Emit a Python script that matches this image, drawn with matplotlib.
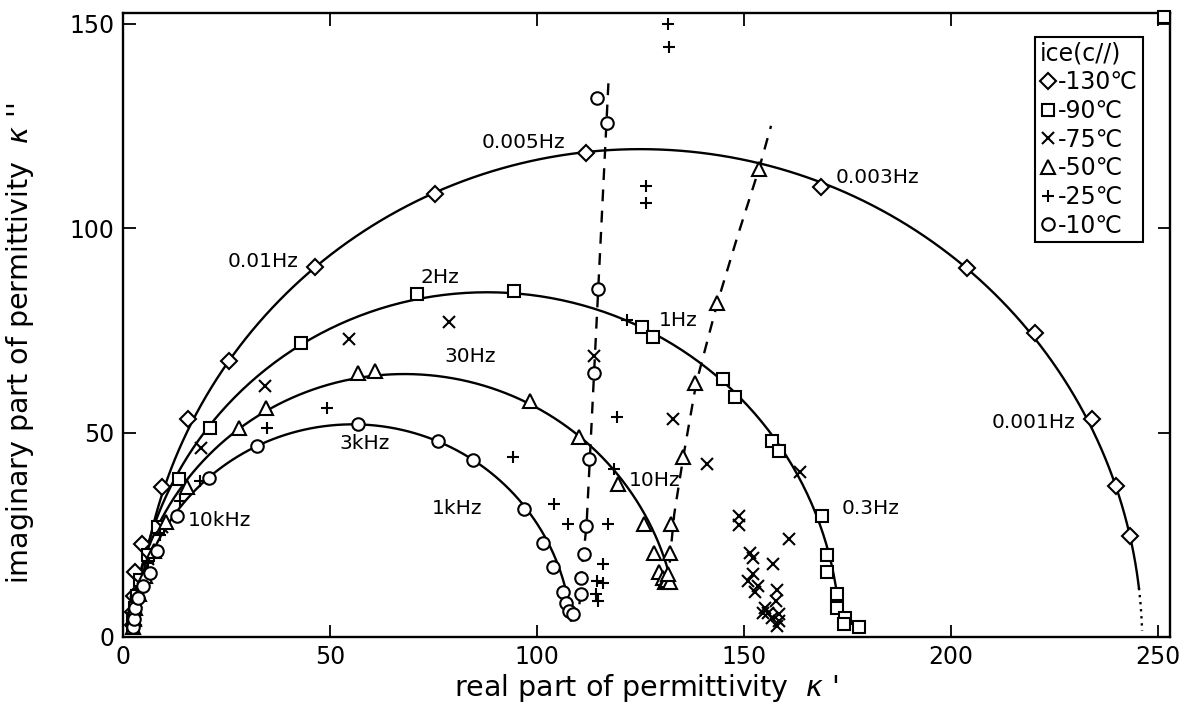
import numpy as np
import matplotlib.pyplot as plt

plt.rcParams['font.family'] = ['DejaVu Sans', 'Noto Sans CJK JP']

# data (real part, imaginary part)
x_m130 = [2.4, 2.5, 2.7, 3.0, 4.5, 9.4, 15.8, 25.5, 46.5, 75.4, 111.8, 168.7, 204.0, 220.5, 234.2, 240.0, 243.4]
y_m130 = [3, 6, 10, 15.8, 22.7, 36.8, 53.2, 67.4, 90.4, 108.3, 118.4, 110.0, 90.2, 74.3, 53.2, 37.0, 24.8]

x_m90 = [2.3, 2.5, 2.8, 3.3, 4.2, 6.0, 8.5, 13.5, 21.0, 42.9, 71.1, 94.5, 125.5, 128.0, 145.0, 147.8,
         156.9, 158.6, 168.9, 170.1, 170.1, 172.5, 172.5, 174.5, 174.2, 177.8, 251.5]
y_m90 = [2.5, 4.5, 7, 10, 14, 20, 27, 38.7, 51.2, 71.8, 83.8, 84.6, 75.7, 73.3, 63.2, 58.6,
         48.0, 45.6, 29.7, 20.1, 15.9, 10.5, 7.1, 4.7, 3.2, 2.5, 151.5]

x_m75 = [2.4, 2.7, 3.2, 4.2, 6.0, 9.5, 18.8, 34.2, 54.5, 78.8, 113.7, 132.8, 141.2, 148.9, 148.9, 163.6,
         161.0, 151.6, 152.3, 157.1, 152.3, 151.1, 153.5, 158.1, 152.8, 157.8, 155.2, 154.7, 158.6,
         156.9, 158.6, 158.0, 155.9]
y_m75 = [2.5, 5, 8.5, 13, 19, 27, 46.3, 61.3, 72.8, 77.0, 68.6, 53.4, 42.4, 29.7, 27.5, 40.4,
         24.0, 20.6, 19.4, 17.9, 15.4, 13.7, 12.5, 11.5, 11.0, 8.8, 7.1, 5.9, 5.6,
         4.7, 3.9, 2.7, 5.9]

x_m50 = [2.3, 2.6, 3.0, 3.8, 5.2, 7.5, 10.5, 15.4, 28.0, 34.5, 56.9, 61.0, 98.3, 110.1, 119.5, 125.8,
         128.2, 129.6, 130.6, 131.0, 131.5, 132.3, 132.5, 132.3, 131.8, 135.4, 138.3, 143.6, 153.7]
y_m50 = [2.5, 4.5, 7, 10.5, 15, 21, 28, 36.8, 51.2, 56.1, 64.5, 65.0, 57.6, 49.0, 37.3, 27.7,
         20.6, 15.9, 14.5, 13.5, 14.0, 13.5, 27.7, 20.6, 15.4, 44.1, 62.0, 81.6, 114.5]

x_m25 = [2.5, 2.8, 3.3, 4.2, 6.0, 9.0, 13.7, 18.6, 34.9, 49.2, 94.2, 104.1, 107.5, 117.1, 116.1, 116.1,
         114.5, 114.2, 114.9, 118.6, 119.3, 121.9, 126.3, 126.3, 131.6, 132.0]
y_m25 = [2.5, 5, 8.5, 12.5, 18, 25, 33.3, 38.2, 51.0, 56.1, 43.9, 32.6, 27.7, 27.7, 17.9, 13.2,
         13.7, 10.5, 8.8, 41.2, 53.7, 77.5, 110.3, 106.1, 149.8, 144.4]

x_m10 = [2.4, 2.6, 3.0, 3.6, 4.8, 6.5, 8.2, 13.0, 20.7, 32.3, 56.9, 76.1, 84.6, 96.9, 101.4, 104.0,
         106.3, 107.0, 107.7, 108.7, 110.6, 110.6, 111.3, 112.0, 112.5, 113.7, 114.9, 116.9, 114.5]
y_m10 = [2.5, 4.5, 7, 9.5, 12.5, 15.7, 21.0, 29.7, 39.0, 46.8, 52.2, 48.0, 43.4, 31.4, 23.0, 17.2,
         11.0, 8.3, 6.4, 5.6, 10.5, 14.5, 20.3, 27.2, 43.6, 64.5, 85.0, 125.7, 131.9]

# fitted arcs: center x, center y, radius, left end y, right end y (solid)
arc_m130 = (125.0, -2.0, 121.3, 1.0, 12.0)
arc_m90 = (88.0, -1.0, 85.3, 2.0, 3.0)
arc_m50 = (68.0, -2.0, 66.3, 2.0, 13.0)
arc_m10 = (55.5, -1.0, 53.0, 2.0, 4.0)
tail_m130_y = 1.5  # dotted extension of the -130 arc

# dashed low-frequency branches
dash_m10_x = [110.3, 111.0, 112.0, 117.3]
dash_m10_y = [8, 18, 27, 135.5]
dash_m50_x = [131.8, 132.3, 133.2, 135.4, 138.5, 143.6, 148.5, 153.7, 156.6]
dash_m50_y = [13, 20.6, 30, 44.1, 62, 81.6, 98, 114.5, 125]

freq_labels = ["0.005Hz", "0.003Hz", "0.01Hz", "2Hz", "1Hz", "30Hz", "3kHz", "10kHz",
               "1kHz", "10Hz", "0.3Hz", "0.001Hz"]
freq_x = [86.6, 172.3, 25.3, 72.0, 129.4, 77.7, 52.2, 15.7, 74.6, 122.2, 173.7, 210.0]
freq_y = [121.0, 112.3, 91.9, 88.0, 77.5, 68.5, 47.4, 28.4, 31.5, 38.2, 31.4, 52.5]


def arc_points(cx, cy, r, y_left, y_right, n=300):
    t0 = np.pi - np.arcsin((y_left - cy) / r)
    t1 = np.arcsin((y_right - cy) / r)
    t = np.linspace(t0, t1, n)
    return cx + r * np.cos(t), cy + r * np.sin(t)


fig = plt.figure(figsize=(11.86, 7.17), dpi=100)
ax = fig.add_axes([0.1037, 0.1116, 0.8828, 0.8703])

for arc in (arc_m130, arc_m90, arc_m50, arc_m10):
    ax.plot(*arc_points(*arc), color="black", lw=1.7, zorder=2)
cx, cy, r, _, y_end = arc_m130
t = np.linspace(np.arcsin((y_end - cy) / r), np.arcsin((tail_m130_y - cy) / r), 50)
ax.plot(cx + r * np.cos(t), cy + r * np.sin(t), color="black", lw=1.7, ls=(0, (1, 2)))

ax.plot(dash_m10_x, dash_m10_y, color="black", lw=1.7, ls=(0, (5, 4)))
ax.plot(dash_m50_x, dash_m50_y, color="black", lw=1.7, ls=(0, (5, 4)))

mk = dict(ls="none", color="black", mfc="white", mew=1.5, zorder=3)
ax.plot(x_m130, y_m130, marker="D", ms=8.5, label="-130℃", **mk)
ax.plot(x_m90, y_m90, marker="s", ms=9, label="-90℃", clip_on=False, **mk)
ax.plot(x_m75, y_m75, marker="x", ms=8, label="-75℃", **mk)
ax.plot(x_m50, y_m50, marker="^", ms=9.5, label="-50℃", **mk)
ax.plot(x_m25, y_m25, marker="+", ms=9, label="-25℃", **mk)
ax.plot(x_m10, y_m10, marker="o", ms=9, label="-10℃", **mk)

for lab, fx, fy in zip(freq_labels, freq_x, freq_y):
    ax.text(fx, fy, lab, fontsize=14.5, ha="left", va="center", zorder=4)

ax.set_xlim(0, 253)
ax.set_ylim(0, 152.6)
ax.set_xticks([0, 50, 100, 150, 200, 250])
ax.set_yticks([0, 50, 100, 150])
ax.tick_params(direction="in", length=9, width=1.3, top=True, right=True, labelsize=17, pad=6)
for s in ax.spines.values():
    s.set_linewidth(1.7)

ax.set_xlabel("real part of permittivity  $\\kappa$ '", fontsize=20.5, labelpad=2)
ax.set_ylabel("imaginary part of permittivity  $\\kappa$ ''", fontsize=20.5)
ax.yaxis.set_label_coords(-0.083, 0.47)

leg = ax.legend(title="ice(c//)", loc="upper right", bbox_to_anchor=(0.974, 0.962),
                fontsize=17, title_fontsize=17, handlelength=0.7, handletextpad=0.1,
                labelspacing=0.2, borderpad=0.2, fancybox=False, edgecolor="black",
                framealpha=1, alignment="left", borderaxespad=0)
leg.get_frame().set_linewidth(1.5)

fig.savefig("out.png", dpi=100)
